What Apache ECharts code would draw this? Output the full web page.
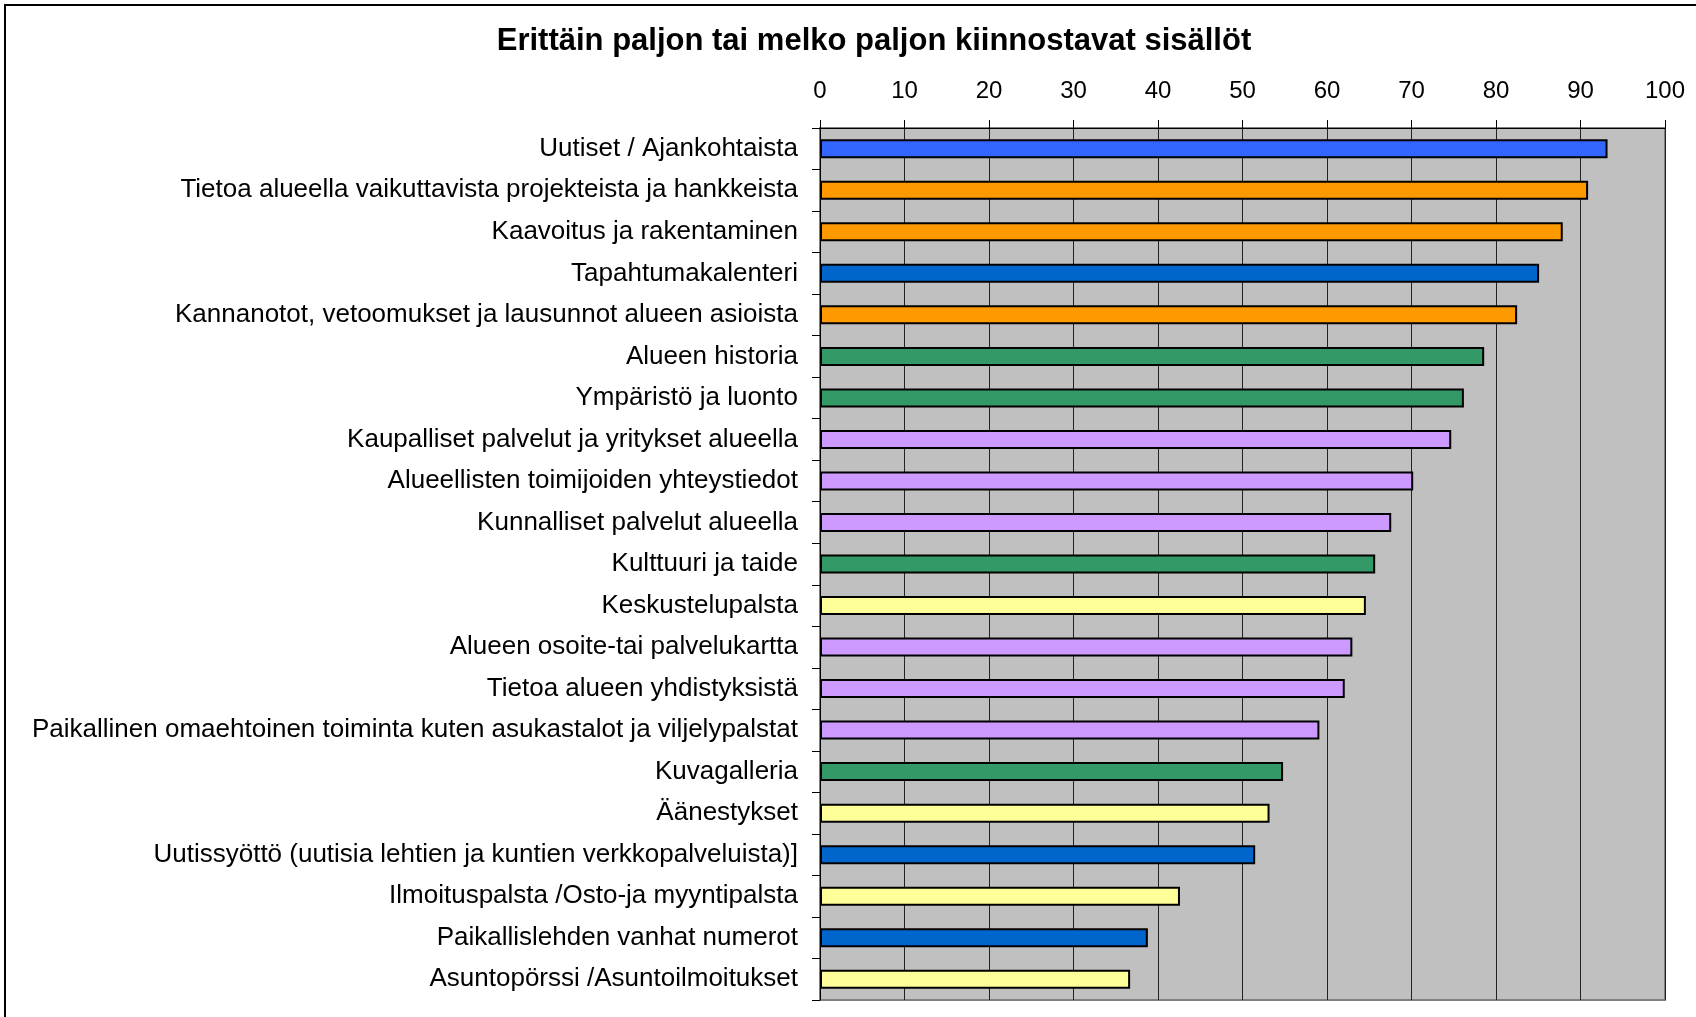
<!DOCTYPE html>
<html>
<head>
<meta charset="utf-8">
<script src="https://cdn.jsdelivr.net/npm/echarts@6/dist/echarts.min.js"></script>
<style>
html, body { margin: 0; padding: 0; background: #fff; }
#main { width: 1696px; height: 1017px; }
</style>
</head>
<body>
<div id="main"></div>
<script>
var categories = [
    'Uutiset / Ajankohtaista',
    'Tietoa alueella vaikuttavista projekteista ja hankkeista',
    'Kaavoitus ja rakentaminen',
    'Tapahtumakalenteri',
    'Kannanotot, vetoomukset ja lausunnot alueen asioista',
    'Alueen historia',
    'Ympäristö ja luonto',
    'Kaupalliset palvelut ja yritykset alueella',
    'Alueellisten toimijoiden yhteystiedot',
    'Kunnalliset palvelut alueella',
    'Kulttuuri ja taide',
    'Keskustelupalsta',
    'Alueen osoite-tai palvelukartta',
    'Tietoa alueen yhdistyksistä',
    'Paikallinen omaehtoinen toiminta kuten asukastalot ja viljelypalstat',
    'Kuvagalleria',
    'Äänestykset',
    'Uutissyöttö (uutisia lehtien ja kuntien verkkopalveluista)]',
    'Ilmoituspalsta /Osto-ja myyntipalsta',
    'Paikallislehden vanhat numerot',
    'Asuntopörssi /Asuntoilmoitukset'
];

var values = [93.2, 90.9, 87.9, 85.1, 82.5, 78.6, 76.2, 74.7, 70.2, 67.6, 65.7,
    64.6, 63.0, 62.1, 59.1, 54.8, 53.2, 51.5, 42.6, 38.8, 36.7];

// colour group of each bar
var groups = ['news', 'civic', 'civic', 'media', 'civic', 'culture', 'culture',
    'service', 'service', 'service', 'culture', 'forum', 'service', 'service',
    'service', 'culture', 'forum', 'media', 'forum', 'media', 'forum'];

var groupColors = {
    news: '#3366FF',
    civic: '#FF9900',
    media: '#0066CC',
    culture: '#339966',
    service: '#CC99FF',
    forum: '#FFFF99'
};

var xTicks = [0, 10, 20, 30, 40, 50, 60, 70, 80, 90, 100];

var font = '"Liberation Sans", Arial, sans-serif';

var chart = echarts.init(document.getElementById('main'));

function buildData() {
    var out = [];
    for (var i = 0; i < values.length; i++) {
        out.push({
            value: values[i],
            itemStyle: { color: groupColors[groups[i]] }
        });
    }
    return out;
}

var option = {
    backgroundColor: '#fff',
    animation: false,
    title: {
        text: 'Erittäin paljon tai melko paljon kiinnostavat sisällöt',
        left: 869,
        top: 21,
        textAlign: 'center',
        textStyle: { fontFamily: font, fontSize: 31, fontWeight: 'bold', color: '#000' }
    },
    graphic: [{
        type: 'rect',
        shape: { x: 5, y: 5, width: 1720, height: 1040 },
        style: { fill: null, stroke: '#000', lineWidth: 2 },
        silent: true
    }],
    grid: {
        left: 820,
        right: 31,
        top: 128,
        bottom: 17,
        show: true,
        backgroundColor: '#C0C0C0',
        borderColor: '#808080',
        borderWidth: 2
    },
    xAxis: {
        type: 'value',
        position: 'top',
        min: xTicks[0],
        max: xTicks[xTicks.length - 1],
        interval: 10,
        axisLine: { show: true, lineStyle: { color: '#000', width: 1 } },
        axisTick: { show: true, length: 8, lineStyle: { color: '#000' } },
        axisLabel: { fontFamily: font, fontSize: 24, color: '#000', margin: 25 },
        splitLine: { show: true, lineStyle: { color: '#222', width: 1 } }
    },
    yAxis: {
        type: 'category',
        inverse: true,
        data: categories,
        axisLine: { show: true, lineStyle: { color: '#000', width: 1 } },
        axisTick: { show: true, length: 8, alignWithLabel: false, lineStyle: { color: '#000' } },
        axisLabel: { fontFamily: font, fontSize: 26, color: '#000', margin: 22 },
        splitLine: { show: false }
    },
    series: [{
        type: 'bar',
        data: buildData(),
        barWidth: 19,
        itemStyle: { borderColor: '#000', borderWidth: 2 }
    }]
};

chart.setOption(option);
</script>
</body>
</html>
